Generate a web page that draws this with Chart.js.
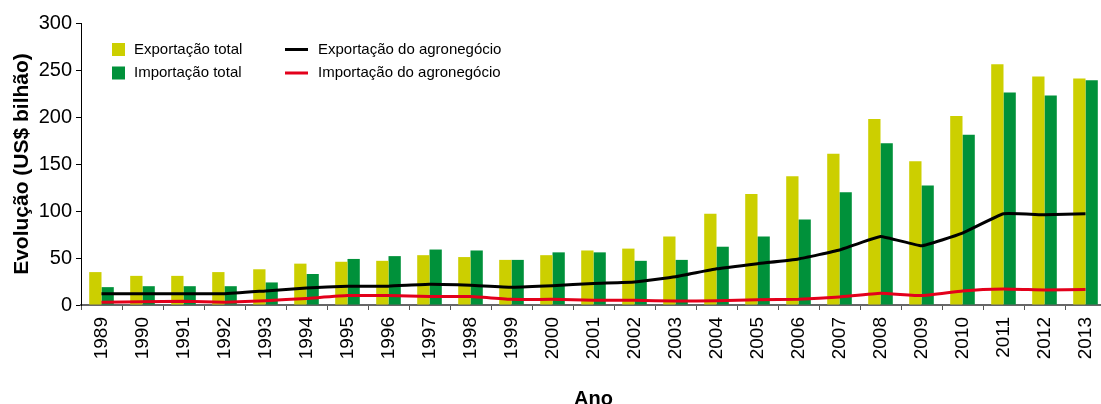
<!DOCTYPE html>
<html>
<head>
<meta charset="utf-8">
<script src="https://cdn.jsdelivr.net/npm/chart.js@4"></script>
<style>
  html, body { margin: 0; padding: 0; background: #fff; overflow: hidden; }
  #wrap { position: relative; width: 1106px; height: 412px; }
</style>
</head>
<body>
<div id="wrap"><canvas id="chart"></canvas></div>
<script>
// === DATA ===
const years = ["1989","1990","1991","1992","1993","1994","1995","1996","1997","1998","1999","2000","2001",
  "2002","2003","2004","2005","2006","2007","2008","2009","2010","2011","2012","2013"];
const exportTotal = [35,31,31,35,38,44,46,47,53,51,48,53,58,60,73,97,118,137,161,198,153,201,256,243,241];
const importTotal = [19,20,20,20,24,33,49,52,59,58,48,56,56,47,48,62,73,91,120,172,127,181,226,223,239];
const exportAgro = [12,12,12,12,15,18,20,20,22,21,19,20.5,23,24.5,30,38.5,44,49,58.5,73,63,76.5,97,96,97];
const importAgro = [3,3.5,4,3,4.5,7,10,10,9,9,6,6,5,5,4.3,4.5,5.5,6,8.5,12.5,10,15,17,16,16.5];
const yTicks = [0,50,100,150,200,250,300];

const FONT = "'Liberation Sans', Arial, sans-serif";

// === LEGEND (drawn inside plot area) ===
const innerLegend = {
  id: "innerLegend",
  afterDraw(chart) {
    const ctx = chart.ctx;
    const ds = chart.data.datasets;
    const items = [
      { d: ds[2], x: 112, y: 49.5 },
      { d: ds[3], x: 112, y: 73 },
      { d: ds[0], x: 285, y: 49.5 },
      { d: ds[1], x: 285, y: 73 }
    ];
    ctx.save();
    ctx.font = "15px " + FONT;
    ctx.textBaseline = "middle";
    items.forEach(it => {
      if (it.d.type === "line") {
        ctx.strokeStyle = it.d.borderColor;
        ctx.lineWidth = 3;
        ctx.beginPath();
        ctx.moveTo(it.x, it.y);
        ctx.lineTo(it.x + 23, it.y);
        ctx.stroke();
        ctx.fillStyle = "#000";
        ctx.fillText(it.d.label, it.x + 33, it.y);
      } else {
        ctx.fillStyle = it.d.backgroundColor;
        ctx.fillRect(it.x, it.y - 6.5, 13, 13);
        ctx.fillStyle = "#000";
        ctx.fillText(it.d.label, it.x + 22, it.y);
      }
    });
    ctx.restore();
  }
};

new Chart(document.getElementById("chart"), {
  type: "bar",
  data: {
    labels: years,
    datasets: [
      { type: "line", label: "Exportação do agronegócio", data: exportAgro, borderColor: "#000000",
        borderWidth: 3, pointRadius: 0, tension: 0.1, order: 0 },
      { type: "line", label: "Importação do agronegócio", data: importAgro, borderColor: "#E3001B",
        borderWidth: 3, pointRadius: 0, tension: 0.1, order: 0 },
      { label: "Exportação total", data: exportTotal, backgroundColor: "#CCCF00", order: 1 },
      { label: "Importação total", data: importTotal, backgroundColor: "#00913A", order: 1 }
    ]
  },
  options: {
    responsive: true,
    maintainAspectRatio: false,
    animation: false,
    datasets: { bar: { categoryPercentage: 0.6, barPercentage: 1.0 } },
    layout: { padding: { top: 23, right: 0, left: 0, bottom: 0 } },
    plugins: { legend: { display: false }, tooltip: { enabled: false } },
    scales: {
      x: {
        grid: { drawOnChartArea: false, drawTicks: true, tickLength: 5, color: "#555", offset: true },
        border: { display: true, color: "#666", width: 2 },
        ticks: { color: "#000", font: { family: FONT, size: 19 }, minRotation: 90, maxRotation: 90, autoSkip: false, padding: 7 },
        title: { display: true, text: "Ano", color: "#000", font: { family: FONT, size: 20, weight: "bold" }, padding: { top: 0, bottom: 1 } },
        afterFit(scale) {
          scale.height = 107;
          scale.paddingLeft = 0;
          scale.paddingRight = 0;
        }
      },
      y: {
        min: 0, max: 300,
        afterBuildTicks(scale) { scale.ticks = yTicks.map(v => ({ value: v })); },
        grid: { drawOnChartArea: false, drawTicks: true, tickLength: 5, color: "#000" },
        border: { display: true, color: "#000", width: 1 },
        ticks: { color: "#000", font: { family: FONT, size: 20 }, padding: 4 },
        title: { display: true, text: "Evolução (US$ bilhão)", color: "#000", font: { family: FONT, size: 21, weight: "bold" }, padding: { top: 10, bottom: 0 } },
        afterFit(scale) { scale.width = 81; }
      }
    }
  },
  plugins: [innerLegend]
});
</script>
</body>
</html>
